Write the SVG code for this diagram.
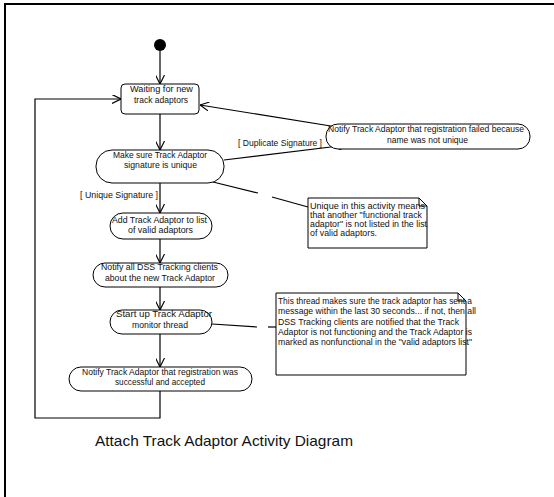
<svg xmlns="http://www.w3.org/2000/svg" width="554" height="497" viewBox="0 0 554 497">
<style>
.n{fill:#fff;stroke:#000;stroke-width:1}
.t{font-family:"Liberation Sans",Arial,sans-serif;font-size:9px;fill:#111}
.e{fill:none;stroke:#000;stroke-width:1.2}
.a{fill:none;stroke:#000;stroke-width:1.2;marker-end:url(#arr)}
</style>
<defs>
<marker id="arr" viewBox="0 0 10 10" refX="10" refY="5" markerWidth="9" markerHeight="9" markerUnits="userSpaceOnUse" orient="auto">
<path d="M0,0 L10,5 L0,10" fill="none" stroke="#000" stroke-width="1.3"/>
</marker>
</defs>
<rect width="554" height="497" fill="#fff"/>
<path d="M5,497 V4 H554" fill="none" stroke="#000" stroke-width="2"/>

<g id="connectors">
<line class="a" x1="160" y1="51" x2="160" y2="84"/>
<line class="a" x1="160" y1="114" x2="160" y2="150"/>
<line class="a" x1="224" y1="160" x2="347" y2="145"/>
<line class="a" x1="337" y1="127" x2="200" y2="105"/>
<line class="e" x1="213" y1="182" x2="258" y2="193"/>
<line class="e" x1="272" y1="197" x2="308" y2="207"/>
<line class="a" x1="160" y1="183" x2="160" y2="213"/>
<line class="a" x1="160" y1="239" x2="160" y2="263"/>
<line class="a" x1="160" y1="287" x2="160" y2="310"/>
<line class="e" x1="212" y1="324" x2="257" y2="327"/>
<line class="e" x1="268" y1="327" x2="276" y2="327"/>
<line class="a" x1="160" y1="334" x2="160" y2="367"/>
<polyline class="a" points="160,391 160,418 35,418 35,99 121,99"/>
<text class="t" x="238" y="146" textLength="84" lengthAdjust="spacingAndGlyphs">[ Duplicate Signature ]</text>
<text class="t" x="80" y="198" textLength="78" lengthAdjust="spacingAndGlyphs">[ Unique Signature ]</text>
</g>

<g id="start"><circle cx="160" cy="45" r="6" fill="#000"/></g>

<g id="waiting">
<rect class="n" x="121" y="84" width="78" height="30" rx="4"/>
<text class="t" x="130" y="92" textLength="63" lengthAdjust="spacingAndGlyphs">Waiting for new</text>
<text class="t" x="134" y="103" textLength="54" lengthAdjust="spacingAndGlyphs">track adaptors</text>
</g>

<g id="makesure">
<rect class="n" x="96" y="150" width="128" height="33" rx="16"/>
<text class="t" x="113" y="158" textLength="94" lengthAdjust="spacingAndGlyphs">Make sure Track Adaptor</text>
<text class="t" x="124" y="168" textLength="73" lengthAdjust="spacingAndGlyphs">signature is unique</text>
</g>

<g id="failed">
<rect class="n" x="326" y="124" width="204" height="25" rx="12"/>
<text class="t" x="328" y="132" textLength="196" lengthAdjust="spacingAndGlyphs">Notify Track Adaptor that registration failed because</text>
<text class="t" x="387" y="143" textLength="81" lengthAdjust="spacingAndGlyphs">name was not unique</text>
</g>

<g id="note1">
<path class="n" d="M308,198 H419 L427,206 V248 H308 Z"/>
<path d="M419,198 V206 H427" fill="none" stroke="#000"/>
<text class="t" x="310" y="209" textLength="115" lengthAdjust="spacingAndGlyphs">Unique in this activity means</text>
<text class="t" x="310" y="218" textLength="112" lengthAdjust="spacingAndGlyphs">that another "functional track</text>
<text class="t" x="310" y="227" textLength="117" lengthAdjust="spacingAndGlyphs">adaptor" is not listed in the list</text>
<text class="t" x="310" y="236" textLength="67" lengthAdjust="spacingAndGlyphs">of valid adaptors.</text>
</g>

<g id="add">
<rect class="n" x="110" y="213" width="102" height="26" rx="13"/>
<text class="t" x="112" y="223" textLength="95" lengthAdjust="spacingAndGlyphs">Add Track Adaptor to list</text>
<text class="t" x="128" y="233" textLength="65" lengthAdjust="spacingAndGlyphs">of valid adaptors</text>
</g>

<g id="notifyall">
<rect class="n" x="93" y="263" width="135" height="24" rx="12"/>
<text class="t" x="101" y="270" textLength="117" lengthAdjust="spacingAndGlyphs">Notify all DSS Tracking clients</text>
<text class="t" x="105" y="281" textLength="110" lengthAdjust="spacingAndGlyphs">about the new Track Adaptor</text>
</g>

<g id="startup">
<rect class="n" x="110" y="310" width="102" height="24" rx="12"/>
<text class="t" x="116" y="317" textLength="96" lengthAdjust="spacingAndGlyphs">Start up Track Adaptor</text>
<text class="t" x="132" y="328" textLength="56" lengthAdjust="spacingAndGlyphs">monitor thread</text>
</g>

<g id="note2">
<path class="n" d="M276,293 H458 L466,301 V375 H276 Z"/>
<path d="M458,293 V301 H466" fill="none" stroke="#000"/>
<text class="t" x="278" y="304" textLength="194" lengthAdjust="spacingAndGlyphs">This thread makes sure the track adaptor has sent a</text>
<text class="t" x="278" y="314" textLength="198" lengthAdjust="spacingAndGlyphs">message within the last 30 seconds... if not, then all</text>
<text class="t" x="278" y="325" textLength="181" lengthAdjust="spacingAndGlyphs">DSS Tracking clients are notified that the Track</text>
<text class="t" x="278" y="335" textLength="194" lengthAdjust="spacingAndGlyphs">Adaptor is not functioning and the Track Adaptor is</text>
<text class="t" x="278" y="345" textLength="194" lengthAdjust="spacingAndGlyphs">marked as nonfunctional in the "valid adaptors list"</text>
</g>

<g id="success">
<rect class="n" x="69" y="367" width="183" height="24" rx="12"/>
<text class="t" x="82" y="375" textLength="156" lengthAdjust="spacingAndGlyphs">Notify Track Adaptor that registration was</text>
<text class="t" x="115" y="385" textLength="90" lengthAdjust="spacingAndGlyphs">successful and accepted</text>
</g>

<text x="95" y="446" style="font-family:'Liberation Sans',Arial,sans-serif;font-size:15px;fill:#111" textLength="258" lengthAdjust="spacingAndGlyphs">Attach Track Adaptor Activity Diagram</text>
</svg>
